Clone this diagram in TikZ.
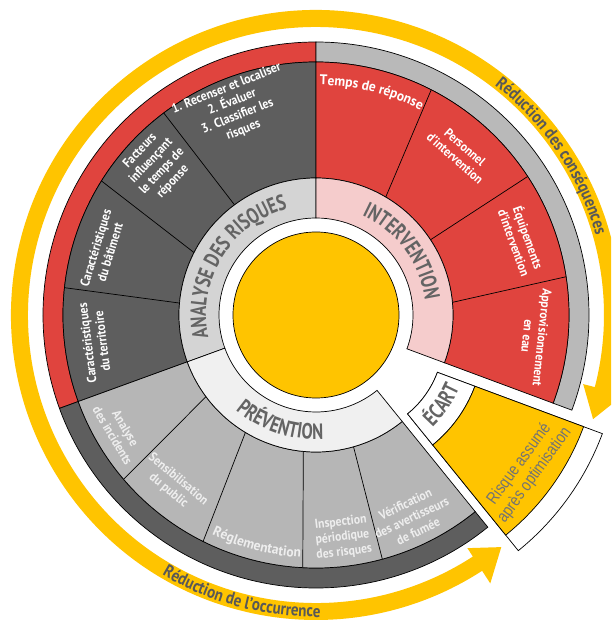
\documentclass[tikz,border=0pt]{standalone}
\usepackage{fontspec}
\setmainfont{PT Sans}
\newfontfamily\condfont{PT Sans}[FakeStretch=0.9]
\newfontfamily\widecondfont{PT Sans}[FakeStretch=0.96]
\newfontfamily\arcfont{PT Sans}[FakeStretch=0.86]
\newfontfamily\bandfont{PT Sans}[FakeStretch=0.76]
\newfontfamily\narrowfont{Liberation Sans}[FakeStretch=0.82]
\usetikzlibrary{decorations.text}

\definecolor{sunyellow}{RGB}{255,196,0}
\definecolor{firered}{RGB}{224,68,62}
\definecolor{darkseg}{RGB}{94,94,94}
\definecolor{midseg}{RGB}{182,182,182}
\definecolor{lightrim}{RGB}{185,185,185}
\definecolor{analyseband}{RGB}{212,212,212}
\definecolor{interband}{RGB}{245,204,204}
\definecolor{preventband}{RGB}{240,240,240}
\definecolor{bandtext}{RGB}{100,100,100}
\definecolor{arctext}{RGB}{88,88,88}
\definecolor{risktext}{RGB}{115,115,115}
\definecolor{paletext}{RGB}{238,238,238}

% ring sector: [style]{start angle}{end angle}{inner radius}{outer radius}
\newcommand\ringpart[5][]{%
  \filldraw[#1] (#2:#4) arc[start angle=#2, end angle=#3, radius=#4]
    -- (#3:#5) arc[start angle=#3, end angle=#2, radius=#5] -- cycle;}
\newcommand\segfont{\fontsize{13}{15}\condfont\bfseries}
\newcommand\curvedfont{\fontsize{14}{14}\widecondfont\bfseries}

\tikzset{
  outline/.style={draw=black, line width=0.7pt},
  seglabel/.style={text=white, align=center, inner sep=0pt, font=\segfont},
  prevlabel/.style={seglabel, text=paletext},
  bandlabel/.style={decorate, decoration={text along path, text align=center,
    text color=bandtext}},
  arclabel/.style={decorate, decoration={text along path, text align=center,
    text color=arctext}},
  curvedseg/.style={decorate, decoration={text along path, text align=center,
    text color=#1}},
}

\begin{document}
\begin{tikzpicture}
\clip (-316pt,-308pt) rectangle (295pt,315pt);
\fill[white] (-316pt,-308pt) rectangle (295pt,315pt);

% double-headed yellow arc around the wheel
\fill[sunyellow] (-14.5:305pt) arc[start angle=-14.5, end angle=303, radius=305pt]
  -- (303:320pt) -- (308.6:297pt) -- (303:278pt) -- (303:288pt)
  arc[start angle=303, end angle=-14.5, radius=288pt]
  -- (-14.5:276pt) -- (-20.6:296pt) -- (-14.5:318pt) -- cycle;

\path[arclabel, decoration={text={|\fontsize{17.5}{17.5}\arcfont\bfseries|Réduction des conséquences}}]
  (64:291pt) arc[start angle=64, end angle=4, radius=291pt];
\path[arclabel, decoration={text={|\fontsize{17.5}{17.5}\arcfont\bfseries|Réduction de l’occurrence}}]
  (225:302pt) arc[start angle=225, end angle=285.2, radius=302pt];

% outer rim
\ringpart[outline, fill=firered]{90}{200}{253pt}{273pt}
\ringpart[outline, fill=darkseg]{200}{309}{253pt}{273pt}
\ringpart[outline, fill=lightrim]{-20.4}{90}{253pt}{273pt}
% segments
\ringpart[outline, fill=darkseg]{90}{200}{137pt}{253pt}
\ringpart[outline, fill=firered]{-20.4}{90}{137pt}{253pt}
\ringpart[outline, fill=midseg]{200}{309}{137pt}{253pt}
% inner band
\ringpart[outline, fill=analyseband]{90}{200}{97pt}{137pt}
\ringpart[outline, fill=interband]{-20.4}{90}{97pt}{137pt}
\ringpart[outline, fill=preventband]{200}{309}{97pt}{137pt}
% centre
\filldraw[outline, fill=sunyellow] (0,0) circle[radius=83pt];

% segment dividers
\begin{scope}[line width=0.7pt]
\draw (126.5:137pt) -- (127:253pt);
\draw (152.9:137pt) -- (148:253pt);
\draw (175:137pt) -- (173.8:253pt);
\draw (59.4:137pt) -- (62.9:253pt);
\draw (33.3:137pt) -- (33.2:253pt);
\draw (5.3:137pt) -- (8.7:253pt);
\draw (216.6:137pt) -- (220.5:253pt);
\draw (239:137pt) -- (243.5:253pt);
\draw (264.7:137pt) -- (267:253pt);
\draw (285.9:137pt) -- (285.2:253pt);
\end{scope}

% band titles
\path[bandlabel, decoration={text={|\fontsize{22}{22}\bandfont\bfseries|ANALYSE DES RISQUES}}]
  (200:110pt) arc[start angle=200, end angle=97, radius=110pt];
\path[bandlabel, decoration={text={|\fontsize{22}{22}\bandfont\bfseries|INTERVENTION}}]
  (88:110pt) arc[start angle=88, end angle=-15, radius=110pt];
\path[bandlabel, decoration={text={|\fontsize{22}{22}\bandfont\bfseries|PRÉVENTION}}]
  (205:124.5pt) arc[start angle=205, end angle=298.2, radius=124.5pt];

% analysis segments
\node[seglabel, rotate=21.8] (recenser) at (111.5:221pt) {1. Recenser et localiser\\2. Évaluer\\3. Classifier les\\risques};
\node[seglabel, rotate=46.6] (facteurs) at (137:218pt) {Facteurs\\influençant\\le temps de\\réponse};
\node[seglabel, rotate=73] (batiment) at (163:223pt) {Caractéristiques\\du bâtiment};
\node[seglabel, rotate=97] (territoire) at (187:223pt) {Caractéristiques\\du territoire};

% intervention segments
\path[curvedseg=white, decoration={text={|\curvedfont|Temps de réponse}}]
  (100:230pt) arc[start angle=100, end angle=52, radius=230pt];
\node[seglabel, rotate=-41.6] (personnel) at (48.4:217pt) {Personnel\\d’intervention};
\node[seglabel, rotate=-70] (equipements) at (20:219pt) {Équipements\\d’intervention};
\node[seglabel, rotate=-96] (approvisionnement) at (-5.7:220pt) {Approvisionnement\\en eau};

% prevention segments
\node[prevlabel, rotate=-59.3] (incidents) at (210.7:229pt) {Analyse\\des incidents};
\node[prevlabel, rotate=-40] (sensibilisation) at (230:222pt) {Sensibilisation\\du public};
\path[curvedseg=paletext, decoration={text={|\curvedfont|Réglementation}}]
  (232:243pt) arc[start angle=232, end angle=279, radius=243pt];
\node[prevlabel, rotate=6.8] (inspection) at (276.8:224pt) {Inspection\\périodique\\des risques};
\node[prevlabel, rotate=25.3] (verification) at (295.3:224pt) {Vérification\\des avertisseurs\\de fumée};

% detached gap sector
\begin{scope}[shift={(30.5pt,-23.5pt)}]
\ringpart[outline, fill=white]{-51}{-20.4}{97pt}{273pt}
\ringpart[outline, fill=white]{-51}{-20.4}{97pt}{137pt}
\ringpart[outline, fill=sunyellow]{-51}{-20.4}{137pt}{253pt}
\path[bandlabel, decoration={text={|\fontsize{22}{22}\bandfont\bfseries|ÉCART}}]
  (-52:123.5pt) arc[start angle=-52, end angle=-17.6, radius=123.5pt];
\node[text=risktext, align=center, inner sep=0pt, rotate=54,
  font=\fontsize{17}{19}\narrowfont] (risque) at (-36:223pt) {Risque assumé\\après optimisation};
\end{scope}
\end{tikzpicture}
\end{document}
